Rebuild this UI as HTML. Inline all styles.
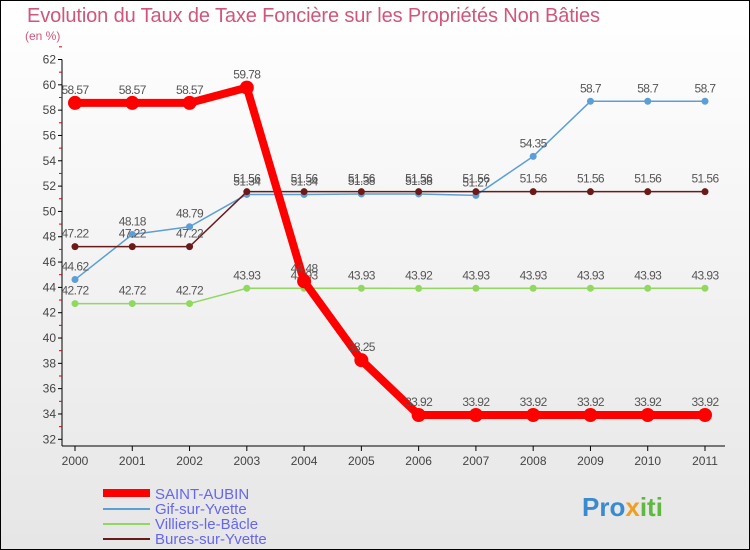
<!DOCTYPE html>
<html><head><meta charset="utf-8"><style>
body{margin:0;width:750px;height:550px;overflow:hidden;font-family:"Liberation Sans",sans-serif}
svg{display:block}
</style></head><body>
<svg id="c" width="750" height="550" xmlns="http://www.w3.org/2000/svg">
<defs><linearGradient id="bg" x1="0" y1="0" x2="0" y2="1"><stop offset="0" stop-color="#ffffff"/><stop offset="1" stop-color="#e6e6e6"/></linearGradient></defs>
<rect x="0.5" y="0.5" width="749" height="549" fill="url(#bg)" stroke="#000"/>
<text x="27" y="22" font-size="20" fill="#d0567a" textLength="573">Evolution du Taux de Taxe Foncière sur les Propriétés Non Bâties</text>
<text x="25" y="40" font-size="12" fill="#d0567a">(en %)</text>
<g id="axes"></g><g id="series"></g>
<g>
<line x1="103" y1="493" x2="150" y2="493" stroke="#f00" stroke-width="8"/><text x="155" y="499" font-size="15" fill="#6666ee">SAINT-AUBIN</text>
<line x1="103" y1="509" x2="150" y2="509" stroke="#5b9fd6" stroke-width="2"/><text x="155" y="514" font-size="15" fill="#6666ee">Gif-sur-Yvette</text>
<line x1="103" y1="524" x2="150" y2="524" stroke="#90d860" stroke-width="2"/><text x="155" y="529" font-size="15" fill="#6666ee">Villiers-le-Bâcle</text>
<line x1="103" y1="539" x2="150" y2="539" stroke="#6b1a1a" stroke-width="2"/><text x="155" y="544" font-size="15" fill="#6666ee">Bures-sur-Yvette</text>
</g>
<text x="582" y="516" font-size="26" font-weight="bold" fill="#3a8ad0">Pro<tspan fill="#f0a020">x</tspan><tspan fill="#60b840">iti</tspan></text>
</svg>
<script>
const years=[2000,2001,2002,2003,2004,2005,2006,2007,2008,2009,2010,2011];
const yTicks=[32,34,36,38,40,42,44,46,48,50,52,54,56,58,60,62];
const saintAubin=[58.57,58.57,58.57,59.78,44.48,38.25,33.92,33.92,33.92,33.92,33.92,33.92];
const gif=[44.62,48.18,48.79,51.34,51.34,51.38,51.38,51.27,54.35,58.7,58.7,58.7];
const villiers=[42.72,42.72,42.72,43.93,43.93,43.93,43.92,43.93,43.93,43.93,43.93,43.93];
const bures=[47.22,47.22,47.22,51.56,51.56,51.56,51.56,51.56,51.56,51.56,51.56,51.56];
const NS="http://www.w3.org/2000/svg";
const x=i=>75+i*(630/11);
const y=v=>439.3-(v-32)*12.66;
function mk(t,a,p){const e=document.createElementNS(NS,t);for(const k in a)e.setAttribute(k,a[k]);p.appendChild(e);return e;}
const ax=document.getElementById('axes');
const yl=mk('line',{x1:62,y1:y(62),x2:62,y2:446,stroke:'#000'},ax);


yTicks.forEach(t=>{
  mk('line',{x1:58,y1:y(t),x2:62,y2:y(t),stroke:'#000'},ax);
  mk('line',{x1:59,y1:y(t+1),x2:62,y2:y(t+1),stroke:'#d00'},ax);
  const tx=mk('text',{x:56,y:y(t)+4,'font-size':12,fill:'#444','text-anchor':'end'},ax);
  tx.textContent=t;
  
  
});
const xl=mk('line',{x1:62,y1:446,x2:725,y2:446,stroke:'#000'},ax);


years.forEach((yr,i)=>{
  mk('line',{x1:x(i),y1:446,x2:x(i),y2:451,stroke:'#000'},ax);
  const tx=mk('text',{x:x(i),y:465,'font-size':12,fill:'#444','text-anchor':'middle'},ax);
  tx.textContent=yr;
  
  
});
const sg=document.getElementById('series');
function draw(vals,color,w,r,name){
  const g=mk('g',{},sg);
  
  
  mk('polyline',{points:vals.map((v,i)=>x(i)+','+y(v)).join(' '),fill:'none',stroke:color,'stroke-width':w,'stroke-linejoin':'round'},g);
  vals.forEach((v,i)=>{
    const c=mk('circle',{cx:x(i),cy:y(v),r:r,fill:color},g);
    
    
    const t=mk('text',{x:x(i),y:y(v)-9,'font-size':12,fill:'#555','text-anchor':'middle','letter-spacing':'-0.6'},g);
    t.textContent=v;
    
    
  });
}
draw(gif,'#5b9fd6',1.5,3.5,'series-gif');
draw(villiers,'#90d860',1.5,3.5,'series-villiers');
draw(bures,'#6b1a1a',1.5,3.5,'series-bures');
draw(saintAubin,'#f00',8,7,'series-saint-aubin');
</script>
</body></html>
